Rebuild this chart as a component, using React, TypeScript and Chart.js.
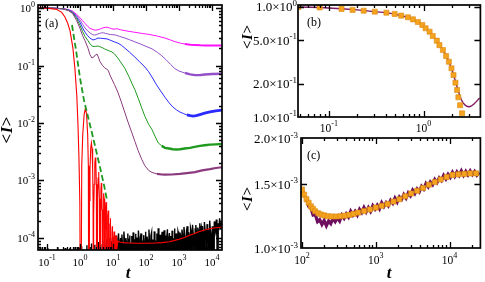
import React, { useEffect, useRef } from "react";
import { Chart, registerables } from "chart.js";
Chart.register(...registerables);

const SERIF = '"Liberation Serif", "DejaVu Serif", serif';
const ZERO = 1e-7; // stands for an exact zero on the log axis (drawn below the frame)

type P = [number, number];

// ---------------- Panel (a) data: [t, <I>] ----------------
const magentaCurve: P[] = [[0.054,1],[0.15,0.995],[0.3,0.975],[0.45,0.94],[0.6,0.88],[0.8,0.77],[1.0,0.68],[1.2,0.6],[1.42,0.54],[1.7,0.48],[2.0,0.445],[2.5,0.42],[3.0,0.412],[3.5,0.418],[4.2,0.435],[5.0,0.452],[6.0,0.462],[6.8,0.462],[7.8,0.45],[8.8,0.438],[10,0.43],[11.5,0.43],[13,0.438],[14.5,0.43],[17,0.418],[25,0.4],[46,0.378],[80,0.36],[132,0.345],[220,0.325],[376,0.3],[550,0.278],[755,0.26],[1100,0.245],[1520,0.236],[2200,0.23],[3050,0.227],[4500,0.224],[6140,0.223],[10000,0.222],[20100,0.222]];
const purpleCurve: P[] = [[0.054,1],[0.15,0.995],[0.3,0.972],[0.45,0.93],[0.6,0.86],[0.8,0.73],[1.0,0.62],[1.2,0.52],[1.42,0.45],[1.7,0.4],[2.0,0.37],[2.4,0.345],[2.7,0.338],[3.2,0.345],[3.8,0.36],[4.5,0.37],[5.2,0.37],[6.0,0.362],[7.0,0.353],[8.5,0.345],[10,0.343],[11.5,0.34],[13,0.335],[16,0.32],[23,0.3],[32,0.28],[46,0.258],[70,0.235],[100,0.215],[152,0.195],[220,0.17],[300,0.148],[400,0.127],[550,0.105],[755,0.088],[1000,0.08],[1520,0.074],[2200,0.07],[3050,0.068],[4500,0.0685],[6140,0.0697],[10000,0.071],[20100,0.072]];
const blueCurve: P[] = [[0.054,1],[0.15,0.995],[0.3,0.97],[0.45,0.92],[0.6,0.84],[0.8,0.69],[1.0,0.56],[1.2,0.45],[1.42,0.38],[1.7,0.33],[2.0,0.3],[2.47,0.278],[2.9,0.285],[3.5,0.3],[4.2,0.298],[5.0,0.295],[6.6,0.29],[8,0.278],[9.3,0.268],[11,0.258],[14,0.245],[18,0.225],[23,0.2],[32,0.17],[46,0.14],[65,0.115],[93,0.094],[120,0.078],[152,0.063],[200,0.048],[265,0.0375],[376,0.028],[500,0.0225],[650,0.019],[850,0.0168],[1070,0.0155],[1400,0.0145],[1740,0.0138],[2200,0.0134],[2660,0.0132],[3300,0.0134],[4300,0.014],[6000,0.0148],[8700,0.0156],[13000,0.0163],[20100,0.0168]];
const greenCurve: P[] = [[0.054,1],[0.15,0.995],[0.3,0.968],[0.45,0.91],[0.6,0.82],[0.8,0.65],[1.0,0.5],[1.2,0.39],[1.42,0.32],[1.75,0.27],[2.1,0.23],[2.47,0.214],[3.0,0.215],[3.5,0.218],[4.0,0.212],[4.6,0.206],[5.5,0.195],[6.6,0.186],[8,0.178],[9.3,0.172],[11,0.16],[14,0.135],[18,0.11],[23,0.089],[30,0.065],[38,0.048],[46,0.038],[58,0.027],[75,0.018],[93,0.013],[120,0.0095],[150,0.0078],[190,0.0058],[235,0.0045],[300,0.004],[376,0.0037],[500,0.0036],[650,0.0035],[850,0.00345],[1070,0.0035],[1500,0.0036],[2150,0.0037],[3000,0.00385],[4300,0.004],[6000,0.0041],[8700,0.0042],[13000,0.00425],[20100,0.0043]];
const winePurpleCurve: P[] = [[0.054,1],[0.15,0.994],[0.3,0.965],[0.45,0.9],[0.6,0.8],[0.8,0.6],[1.0,0.44],[1.2,0.33],[1.42,0.27],[1.75,0.2],[2.0,0.155],[2.3,0.135],[2.6,0.14],[2.9,0.152],[3.3,0.158],[3.6,0.14],[4.0,0.118],[4.8,0.1],[5.7,0.09],[6.5,0.086],[7.2,0.082],[8.1,0.068],[9.5,0.056],[11,0.047],[14,0.0345],[18,0.023],[23,0.015],[28.5,0.0104],[35,0.0075],[46,0.0048],[58,0.0033],[75,0.0023],[93,0.0018],[120,0.0015],[152,0.00138],[215,0.0013],[300,0.00127],[376,0.00126],[600,0.00127],[1070,0.0013],[2000,0.00136],[3050,0.0014],[5000,0.0015],[8700,0.00158],[13000,0.00165],[20100,0.0017]];
// red curve: 0 marks the exact zeros of the oscillation
const redCurve: P[] = [[0.054,1],[0.1,0.995],[0.2,0.94],[0.28,0.84],[0.35,0.7],[0.42,0.55],[0.5,0.4],[0.61,0.2],[0.7,0.09],[0.8,0.03],[0.87,0.009],[0.93,0.0025],[0.99,0.0004],[1.05,0],
  [1.13,0.0018],[1.21,0.0062],[1.34,0.0143],[1.46,0.018],[1.58,0.0143],[1.71,0.0062],[1.79,0.0018],[1.87,0],
  [1.94,0.00045],[2.01,0.00155],[2.11,0.0036],[2.215,0.0045],[2.32,0.0036],[2.42,0.00155],[2.49,0.00045],[2.56,0],
  [2.63,0.00025],[2.70,0.00086],[2.81,0.002],[2.915,0.0025],[3.02,0.002],[3.13,0.00086],[3.20,0.00025],[3.27,0],
  [3.42,0.00048],[3.54,0.0011],[3.65,0.0014],[3.76,0.0011],[3.88,0.00048],[4.03,0],
  [4.19,0.00031],[4.31,0.00071],[4.435,0.0009],[4.56,0.00071],[4.68,0.00031],[4.84,0],
  [5.01,0.00021],[5.14,0.00048],[5.27,0.0006],[5.40,0.00048],[5.53,0.00021],[5.70,0],
  [5.89,0.000145],[6.04,0.00033],[6.185,0.00042],[6.33,0.00033],[6.48,0.000145],[6.67,0],
  [6.88,0.000103],[7.03,0.00024],[7.185,0.0003],[7.34,0.00024],[7.49,0.000103],[7.70,0],
  [8.12,0.000175],[8.3,0.00022],[8.48,0.000175],[8.90,0],
  [9.32,0.000127],[9.5,0.00016],[9.68,0.000127],[10.1,0],
  [10.6,0.000105],[10.8,0.00013],[11.0,0.000105],[11.5,0],
  [12.1,0.0001],[12.35,0.00011],[12.6,0.0001],[13.2,0.00006],
  [14,0.000088],[16,0.000085],[20,0.000083],[30,0.000082],[50,0.000081],[100,0.000081],[200,0.000082],[300,0.000083],[500,0.000086],[700,0.00009],[1000,0.000095],[1500,0.000102],[2000,0.00011],[3000,0.00012],[4000,0.000128],[6000,0.000138],[10000,0.000148],[20100,0.000155]];
const dashedEnvelope: P[] = [[0.572,0.506],[0.757,0.186],[1.0,0.0606],[1.32,0.025],[1.75,0.0128],[2.31,0.0067],[3.05,0.0034],[4.03,0.00171],[5.34,0.00083],[6.58,0.00046]];
// black noisy series, hand-read, in units of 1e-5 (0 = exact zero); sampled every 0.02 decade from t = 10^-1.27
const blackStartExp = -1.27;
const blackStepExp = 0.02;
const blackNoise: number[] = [
  0,0,0,6.8,0,0,0,0,0,0, 0,0,0,0,0,6.6,0,0,0,0, 0,0,0,0,0,0,0,0,0,0, 6.9,0,0,0,0,0,0,0,0,0, 0,6.7,0,0,0,0,0,0,6.6,0, 0,0,0,0,0,0,7,0,0,0, 0,0,6.8,0,
  0,0,7.2,0,0,0,0,0,0,0, 7.5,0,0,0,0,0,0,8,0,0, 0,0,7.6,0,0,0,0,8.5,0,0, 7.8,0,0,0,9,0,0,8.2,0,0, 9.5,0,7.5,0,0,10,0,8.8,0,9.2,
  0,10.5,8,0,11,7.5,0,9.8,12,0, 8.5,10,0,11.5,7.2,0,13,9,0,10, 8.2,0,12,0,9.5,11,0,8,10.8,0, 12.5,7.8,0,9.2,11.8,0,10.2,0,13.5,8.6, 0,10,12,0,9,0,11.2,8.4,0,12.8,
  0,10.6,9,0,14,8.2,0,11,12.5,0, 9.4,0,13,10.2,0,8.8,12,0,14.8,9.6, 0,11.4,0,10,12.8,0,9.2,13.6,0,11, 0,10.4,14.2,0,9.8,12.2,0,10.8,0,13.4, 11,0,9.6,14.6,0,12,10.2,0,13,11.6,
  0,12.4,10.8,0,14,11.2,0,15.6,12,9.8, 0,13.8,16,0,12.6,11,0,15,13.2,0, 17,12,10.6,0,14.4,16.8,11.8,0,15.2,13, 0,18,12.8,14.6,0,16.2,11.6,0,19,14, 12.2,0,17.4,15,13,0,20,14.2,11.4,0,
  16,13.2,0,19.4,14.6,12.8,21,15.4,0,18,13.6,22,16.2,14,19
];

// ---------------- Panel (b) data ----------------
const bSquares: P[] = [[0.0476,1.0],[0.080,0.99],[0.136,0.96],[0.178,0.94],[0.233,0.925],[0.305,0.906],[0.405,0.887],[0.495,0.864],[0.58,0.834],[0.684,0.806],[0.772,0.772],[0.87,0.73],[0.97,0.686],[1.05,0.64],[1.157,0.596],[1.25,0.545],[1.38,0.494],[1.47,0.45],[1.6,0.406],[1.73,0.358],[1.85,0.318],[1.97,0.277],[2.07,0.241],[2.17,0.205],[2.26,0.176],[2.33,0.151],[2.43,0.128],[2.55,0.108]];
const bLine: P[] = [[0.047,1.0],[0.08,0.99],[0.136,0.962],[0.2,0.94],[0.3,0.908],[0.4,0.888],[0.5,0.862],[0.6,0.828],[0.7,0.8],[0.8,0.762],[0.9,0.72],[1.0,0.668],[1.1,0.618],[1.2,0.57],[1.3,0.525],[1.4,0.485],[1.5,0.44],[1.6,0.405],[1.7,0.37],[1.8,0.335],[1.9,0.3],[2.0,0.266],[2.1,0.232],[2.2,0.203],[2.3,0.178],[2.4,0.158],[2.5,0.144],[2.6,0.135],[2.75,0.128],[2.9,0.1245],[3.05,0.124],[3.2,0.126],[3.4,0.131],[3.6,0.138],[3.9,0.149]];

// ---------------- Panel (c) data ----------------
const cSquareT: number[] = [100,107,115,123,132,141,151,166,182,200,224,251,288,331,380,437,501,575,692,832,1000,1202,1445,1738,2089,2512,3020,3631,4365,5248,6310,7586,9120,10965,13183,15849,19055,22909];
const cSquareI: number[] = [1.445,1.40,1.36,1.33,1.30,1.28,1.26,1.245,1.235,1.228,1.222,1.22,1.22,1.222,1.226,1.232,1.24,1.25,1.262,1.275,1.29,1.305,1.32,1.34,1.36,1.385,1.41,1.435,1.46,1.49,1.515,1.54,1.565,1.585,1.59,1.595,1.60,1.60]; // x 1e-3
// noisy band, units of 1e-3, sampled every 0.03 decade from t = 10^2
const cBandStartExp = 2.0;
const cBandStepExp = 0.03;
const cBand: number[] = [1.45,1.39,1.365,1.30,1.285,1.23,1.235,1.18,1.195,1.16,1.19,1.15,1.185,1.165,1.206,1.18,1.21,1.185,1.23,1.205,1.24,1.215,1.26,1.23,1.26,1.23,1.275,1.25,1.29,1.255,1.29,1.26,1.305,1.278,1.31,1.28,1.33,1.298,1.33,1.305,1.35,1.325,1.37,1.336,1.38,1.358,1.40,1.37,1.415,1.39,1.44,1.41,1.45,1.425,1.475,1.45,1.50,1.47,1.515,1.49,1.54,1.51,1.555,1.53,1.58,1.545,1.59,1.56,1.61,1.57,1.615,1.58,1.625,1.58,1.62,1.585,1.625,1.588,1.62,1.582,1.61];

// ---------------- tick labels ----------------
const aXTickExps = [-1, 0, 1, 2, 3, 4];
const aYTickExps = [0, -1, -2, -3, -4];
const bXTickExps = [-1, 0];
const bYTickValues = [1.0, 0.5, 0.2, 0.1];
const bYTickTexts: [string, string][] = [["1.0\u00d710", "0"], ["5.0\u00d710", "-1"], ["2.0\u00d710", "-1"], ["1.0\u00d710", "-1"]];
const cXTickExps = [2, 3, 4];
const cYTickValues = [2.0e-3, 1.5e-3, 1.0e-3];
const cYTickTexts: [string, string][] = [["2.0\u00d710", "-3"], ["1.5\u00d710", "-3"], ["1.0\u00d710", "-3"]];

// ---------------- helpers ----------------
const pts = (arr: P[], scale = 1) => arr.map(([x, y]) => ({ x, y: y > 0 ? y * scale : ZERO }));
const gridPts = (startExp: number, stepExp: number, vals: number[], unit: number) =>
  vals.map((v, i) => ({ x: Math.pow(10, startExp + i * stepExp), y: v > 0 ? v * unit : ZERO }));

function logMinors(min: number, max: number) {
  const out: number[] = [];
  for (let d = Math.floor(Math.log10(min)); d <= Math.ceil(Math.log10(max)); d++) {
    for (let k = 2; k <= 9; k++) {
      const v = k * Math.pow(10, d);
      if (v >= min && v <= max) out.push(v);
    }
  }
  return out;
}

function drawSup(ctx: CanvasRenderingContext2D, base: string, exp: string, x: number, y: number, align: "center" | "right", bf: number, ef: number, raise: number) {
  ctx.font = `${bf}px ${SERIF}`;
  const wb = ctx.measureText(base).width;
  ctx.font = `${ef}px ${SERIF}`;
  const we = ctx.measureText(exp).width;
  const total = wb + we;
  const start = align === "center" ? x - total / 2 : x - total;
  ctx.textAlign = "left";
  ctx.textBaseline = "alphabetic";
  ctx.font = `${bf}px ${SERIF}`;
  ctx.fillText(base, start, y);
  ctx.font = `${ef}px ${SERIF}`;
  ctx.fillText(exp, start + wb, y - raise);
}

function drawYTitle(ctx: CanvasRenderingContext2D, cx: number, cy: number, size: number) {
  ctx.save();
  ctx.translate(cx, cy);
  ctx.rotate(-Math.PI / 2);
  ctx.textBaseline = "middle";
  ctx.textAlign = "left";
  const fB = `bold ${size}px ${SERIF}`;
  const fI = `italic bold ${size}px ${SERIF}`;
  ctx.font = fB; const w1 = ctx.measureText("<").width; const w3 = ctx.measureText(">").width;
  ctx.font = fI; const w2 = ctx.measureText("I").width;
  let x = -(w1 + w2 + w3 + 1) / 2;
  ctx.font = fB; ctx.fillText("<", x, 0); x += w1;
  ctx.font = fI; ctx.fillText("I", x + 0.5, 0); x += w2 + 1;
  ctx.font = fB; ctx.fillText(">", x, 0);
  ctx.restore();
}

type Lbl = { v: number; base: string; exp: string };
type AxesCfg = {
  xMajor: number[]; xMinor: number[]; yMajor: number[]; yMinor: number[];
  xLabels: Lbl[]; yLabels: Lbl[];
  majorLen: number; minorLen: number;
  xbf: number; xef: number; xRaise: number; xBaseline: number;
  ybf: number; yef: number; yRaise: number; yRight: number; yDy: number;
  panel: { text: string; x: number; y: number; size: number };
  yTitle: { x: number; y: number; size: number };
  xTitle?: { x: number; y: number; size: number };
};

function axesPlugin(cfg: AxesCfg) {
  return {
    id: "frameAxes",
    afterDatasetsDraw(chart: any) {
      const ctx: CanvasRenderingContext2D = chart.ctx;
      const a = chart.chartArea;
      const xs = chart.scales.x, ys = chart.scales.y;
      ctx.save();
      ctx.strokeStyle = "#000";
      ctx.fillStyle = "#000";
      ctx.lineWidth = 1.3;
      const tick = (vals: number[], len: number, horiz: boolean) => {
        for (const v of vals) {
          if (horiz) {
            const px = Math.round(xs.getPixelForValue(v)) + 0.5;
            if (px < a.left + 1 || px > a.right - 1) continue;
            ctx.beginPath();
            ctx.moveTo(px, a.bottom); ctx.lineTo(px, a.bottom - len);
            ctx.moveTo(px, a.top); ctx.lineTo(px, a.top + len);
            ctx.stroke();
          } else {
            const py = Math.round(ys.getPixelForValue(v)) + 0.5;
            if (py < a.top + 1 || py > a.bottom - 1) continue;
            ctx.beginPath();
            ctx.moveTo(a.left, py); ctx.lineTo(a.left + len, py);
            ctx.moveTo(a.right, py); ctx.lineTo(a.right - len, py);
            ctx.stroke();
          }
        }
      };
      tick(cfg.xMajor, cfg.majorLen, true);
      tick(cfg.xMinor, cfg.minorLen, true);
      tick(cfg.yMajor, cfg.majorLen, false);
      tick(cfg.yMinor, cfg.minorLen, false);
      ctx.lineWidth = 1.7;
      ctx.strokeRect(a.left, a.top, a.right - a.left, a.bottom - a.top);
      for (const l of cfg.xLabels) {
        drawSup(ctx, l.base, l.exp, xs.getPixelForValue(l.v), cfg.xBaseline, "center", cfg.xbf, cfg.xef, cfg.xRaise);
      }
      for (const l of cfg.yLabels) {
        drawSup(ctx, l.base, l.exp, cfg.yRight, ys.getPixelForValue(l.v) + cfg.yDy, "right", cfg.ybf, cfg.yef, cfg.yRaise);
      }
      ctx.font = `${cfg.panel.size}px ${SERIF}`;
      ctx.textAlign = "left";
      ctx.textBaseline = "alphabetic";
      ctx.fillText(cfg.panel.text, cfg.panel.x, cfg.panel.y);
      drawYTitle(ctx, cfg.yTitle.x, cfg.yTitle.y, cfg.yTitle.size);
      if (cfg.xTitle) {
        ctx.font = `italic bold ${cfg.xTitle.size}px ${SERIF}`;
        ctx.textAlign = "center";
        ctx.fillText("t", cfg.xTitle.x, cfg.xTitle.y);
      }
      ctx.restore();
    },
  };
}

function makeChart(canvas: HTMLCanvasElement, datasets: any[], xr: [number, number], yr: [number, number], pad: any, axes: AxesCfg) {
  return new Chart(canvas, {
    type: "scatter",
    data: { datasets },
    options: {
      animation: false,
      responsive: false,
      events: [],
      layout: { padding: pad },
      plugins: { legend: { display: false }, tooltip: { enabled: false } },
      scales: {
        x: { type: "logarithmic", min: xr[0], max: xr[1], display: false },
        y: { type: "logarithmic", min: yr[0], max: yr[1], display: false },
      },
    } as any,
    plugins: [axesPlugin(axes) as any],
  });
}

const line = (data: any[], color: string, width: number, extra: any = {}) => ({
  data, showLine: true, fill: false, pointRadius: 0, borderColor: color, backgroundColor: color, borderWidth: width, tension: 0, ...extra,
});
const tail = (t0: number, w0: number, w1: number) => ({
  borderWidth: (c: any) => (c.p0.parsed.x >= t0 ? w1 : w0),
});

export default function App() {
  const ra = useRef<HTMLCanvasElement>(null);
  const rb = useRef<HTMLCanvasElement>(null);
  const rc = useRef<HTMLCanvasElement>(null);

  useEffect(() => {
    const charts: Chart[] = [];
    // ---- panel (a)
    const aX: [number, number] = [0.0534, 20100];
    const aY: [number, number] = [6.18e-5, 1.128];
    charts.push(makeChart(ra.current!, [
      line(pts(dashedEnvelope), "#1e9a1e", 1.8, { borderDash: [6, 3] }),
      line(pts(redCurve), "#ff0000", 1.1),
      line(pts(winePurpleCurve), "#8b3a7e", 1, { segment: tail(200, 1, 2.2) }),
      line(pts(greenCurve), "#1f9a1f", 1, { segment: tail(300, 1, 2.4) }),
      line(pts(blueCurve), "#2b2bff", 1, { segment: tail(1500, 1, 2.8) }),
      line(pts(purpleCurve), "#9450c8", 1, { segment: tail(1500, 1, 2.4) }),
      line(pts(magentaCurve), "#ff10ff", 1, { segment: tail(1500, 1, 2) }),
      line(gridPts(blackStartExp, blackStepExp, blackNoise, 1e-5), "#000000", 1.4),
    ], aX, aY, { left: 38, top: 5, right: 263, bottom: 32 }, {
      xMajor: aXTickExps.map((e) => Math.pow(10, e)), xMinor: logMinors(aX[0], aX[1]),
      yMajor: aYTickExps.map((e) => Math.pow(10, e)), yMinor: logMinors(aY[0], aY[1]),
      xLabels: aXTickExps.map((e) => ({ v: Math.pow(10, e), base: "10", exp: String(e) })),
      yLabels: aYTickExps.map((e) => ({ v: Math.pow(10, e), base: "10", exp: String(e) })),
      majorLen: 6, minorLen: 3,
      xbf: 11, xef: 8, xRaise: 6, xBaseline: 266,
      ybf: 11, yef: 8, yRaise: 5, yRight: 35, yDy: 4,
      panel: { text: "(a)", x: 45, y: 27, size: 12 },
      yTitle: { x: 8, y: 130, size: 17 },
      xTitle: { x: 128, y: 278, size: 17 },
    }));
    // ---- panel (b)
    const bX: [number, number] = [0.0472, 3.98];
    const bY: [number, number] = [0.1, 1.042];
    charts.push(makeChart(rb.current!, [
      { data: pts(bSquares), showLine: false, pointStyle: "rect", pointRadius: 3.6, backgroundColor: "#f5a21e", borderColor: "#d98a12", borderWidth: 0.6 },
      line(pts(bLine), "#7d1a63", 1.4),
    ], bX, bY, { left: 298, top: 5, right: 4, bottom: 165 }, {
      xMajor: bXTickExps.map((e) => Math.pow(10, e)), xMinor: logMinors(bX[0], bX[1]),
      yMajor: bYTickValues, yMinor: [],
      xLabels: bXTickExps.map((e) => ({ v: Math.pow(10, e), base: "10", exp: String(e) })),
      yLabels: bYTickValues.map((v, i) => ({ v, base: bYTickTexts[i][0], exp: bYTickTexts[i][1] })),
      majorLen: 6, minorLen: 3,
      xbf: 11.5, xef: 8, xRaise: 6, xBaseline: 132,
      ybf: 13, yef: 9, yRaise: 5.5, yRight: 297, yDy: 4.5,
      panel: { text: "(b)", x: 307, y: 26, size: 12 },
      yTitle: { x: 248, y: 37, size: 15 },
    }));
    // ---- panel (c)
    const cX: [number, number] = [96.9, 26200];
    const cY: [number, number] = [1.0e-3, 2.0e-3];
    charts.push(makeChart(rc.current!, [
      { data: cSquareT.map((t, i) => ({ x: t, y: cSquareI[i] * 1e-3 })), showLine: false, pointStyle: "rect", pointRadius: 3.6, backgroundColor: "#f5a21e", borderColor: "#d98a12", borderWidth: 0.6 },
      line(gridPts(cBandStartExp, cBandStepExp, cBand, 1e-3), "#6e0e5e", 3.2),
    ], cX, cY, { left: 301, top: 138, right: 4, bottom: 34 }, {
      xMajor: cXTickExps.map((e) => Math.pow(10, e)), xMinor: logMinors(cX[0], cX[1]),
      yMajor: cYTickValues, yMinor: [],
      xLabels: cXTickExps.map((e) => ({ v: Math.pow(10, e), base: "10", exp: String(e) })),
      yLabels: cYTickValues.map((v, i) => ({ v, base: cYTickTexts[i][0], exp: cYTickTexts[i][1] })),
      majorLen: 6, minorLen: 3,
      xbf: 11.5, xef: 8, xRaise: 6, xBaseline: 264,
      ybf: 13, yef: 9, yRaise: 5.5, yRight: 298, yDy: 5,
      panel: { text: "(c)", x: 307, y: 159, size: 12 },
      yTitle: { x: 248, y: 199, size: 15 },
      xTitle: { x: 389, y: 278, size: 17 },
    }));
    return () => charts.forEach((c) => c.destroy());
  }, []);

  const cs: React.CSSProperties = { position: "absolute", left: 0, top: 0, width: 485, height: 282 };
  return (
    <div style={{ position: "absolute", left: 0, top: 0, width: 485, height: 282, background: "#fff" }}>
      <canvas ref={ra} width={485} height={282} style={cs} />
      <canvas ref={rb} width={485} height={282} style={cs} />
      <canvas ref={rc} width={485} height={282} style={cs} />
    </div>
  );
}
